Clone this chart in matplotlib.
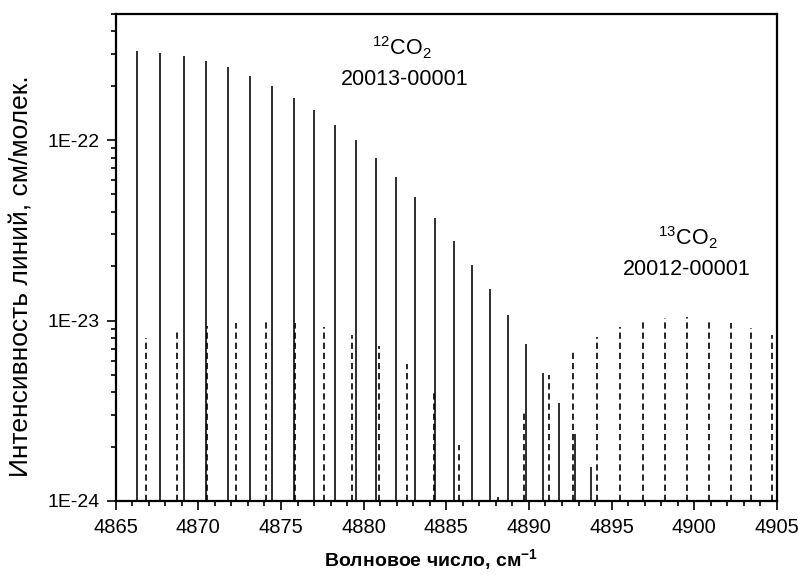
import numpy as np
import matplotlib
matplotlib.use('Agg')
import matplotlib.pyplot as plt
from matplotlib.ticker import FixedLocator, LogLocator, FuncFormatter, NullFormatter

plt.rcParams['font.family'] = ['Liberation Sans', 'DejaVu Sans']
plt.rcParams['mathtext.fontset'] = 'custom'
plt.rcParams['mathtext.rm'] = 'Liberation Sans'
plt.rcParams['lines.scale_dashes'] = False

# 12CO2 20013-00001 band (solid lines)
wn12 = [4866.27, 4867.70, 4869.11, 4870.46, 4871.80, 4873.11, 4874.46, 4875.77,
        4877.02, 4878.29, 4879.54, 4880.75, 4881.96, 4883.13, 4884.29, 4885.45,
        4886.58, 4887.67, 4888.74, 4889.82, 4890.83, 4891.81, 4892.79, 4893.77]
int12 = [3.10e-22, 3.04e-22, 2.94e-22, 2.76e-22, 2.53e-22, 2.28e-22, 2.00e-22, 1.72e-22,
         1.46e-22, 1.22e-22, 9.96e-23, 7.93e-23, 6.27e-23, 4.84e-23, 3.72e-23, 2.77e-23,
         2.04e-23, 1.50e-23, 1.07e-23, 7.43e-24, 5.12e-24, 3.49e-24, 2.34e-24, 1.55e-24]

# 13CO2 20012-00001 band (dashed lines)
wn13 = [4866.82, 4868.69, 4870.51, 4872.30, 4874.10, 4875.83, 4877.59, 4879.28,
        4880.95, 4882.63, 4884.23, 4885.79, 4888.10, 4889.68, 4891.20, 4892.66,
        4894.10, 4895.52, 4896.91, 4898.26, 4899.59, 4900.92, 4902.23, 4903.45, 4904.70]
int13 = [8.02e-24, 8.73e-24, 9.38e-24, 9.75e-24, 9.84e-24, 9.71e-24, 9.19e-24, 8.34e-24,
         7.21e-24, 5.77e-24, 3.97e-24, 2.05e-24, 1.05e-24, 3.07e-24, 4.96e-24, 6.66e-24,
         8.09e-24, 9.18e-24, 9.87e-24, 1.035e-23, 1.04e-23, 1.02e-23, 9.71e-24, 9.12e-24, 8.34e-24]

xticks = [4865, 4870, 4875, 4880, 4885, 4890, 4895, 4900, 4905]
yticks = [1e-24, 1e-23, 1e-22]

fig = plt.figure(figsize=(7.98, 5.75), dpi=100)
ax = fig.add_axes([0.145, 0.1287, 0.8285, 0.847])

ax.set_yscale('log')
ax.set_xlim(4865, 4905)
ax.set_ylim(1e-24, 5e-22)

ax.vlines(wn12, 1e-24, int12, colors='black', linewidth=1.15)
ax.vlines(wn13, 1e-24, int13, colors='black', linewidth=1.2, linestyles=[(0, (4.5, 2.8))])

# ticks
ax.xaxis.set_major_locator(FixedLocator(xticks))
ax.xaxis.set_minor_locator(FixedLocator(np.arange(4865, 4906, 1)))
ax.yaxis.set_major_locator(FixedLocator(yticks))
ax.yaxis.set_minor_locator(LogLocator(base=10, subs=np.arange(2, 10), numticks=20))
ax.yaxis.set_major_formatter(FuncFormatter(lambda v, p: '1E%d' % round(np.log10(v))))
ax.yaxis.set_minor_formatter(NullFormatter())
ax.tick_params(which='both', direction='out', top=False, right=False, width=1.2)
ax.tick_params(which='major', length=6.5)
ax.tick_params(which='minor', length=3.8)
ax.tick_params(axis='x', which='major', pad=6, labelsize=14.5)
ax.tick_params(axis='y', which='major', pad=5, labelsize=14)
for s in ax.spines.values():
    s.set_linewidth(1.6)

ax.set_xlabel('Волновое число, см$^{\\mathregular{-1}}$', fontsize=14, fontweight='bold', va='center')
ax.xaxis.set_label_coords(0.477, -0.122)
ax.set_ylabel('Интенсивность линий, см/молек.', fontsize=19, va='center')
ax.yaxis.set_label_coords(-0.142, 0.462)

ax.text(0.433, 0.9158, r'$\mathregular{^{12}CO_2}$', transform=ax.transAxes,
        ha='center', va='baseline', fontsize=15.5)
ax.text(0.4365, 0.8542, '20013-00001', transform=ax.transAxes,
        ha='center', va='baseline', fontsize=15.5)
ax.text(0.866, 0.5257, r'$\mathregular{^{13}CO_2}$', transform=ax.transAxes,
        ha='center', va='baseline', fontsize=15.5)
ax.text(0.8635, 0.4641, '20012-00001', transform=ax.transAxes,
        ha='center', va='baseline', fontsize=15.5)

fig.savefig('out.png', dpi=100)
